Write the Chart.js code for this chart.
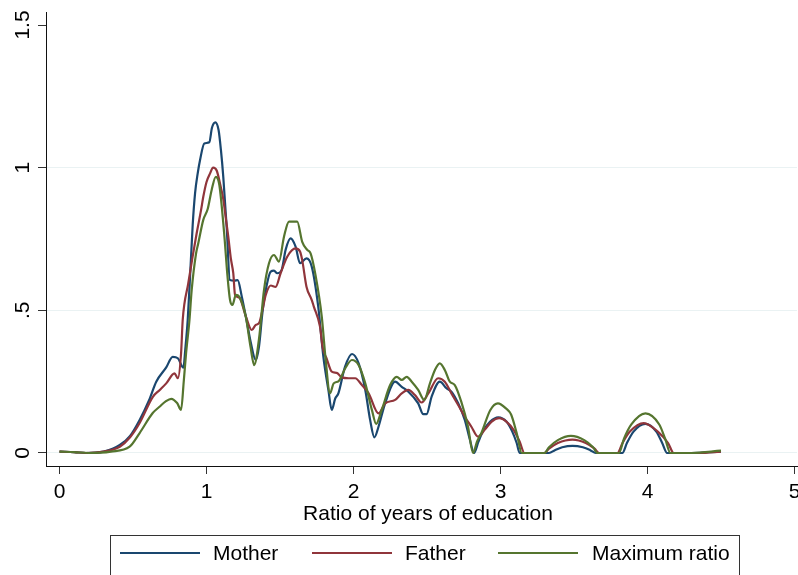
<!DOCTYPE html>
<html>
<head>
<meta charset="utf-8">
<script src="https://cdn.jsdelivr.net/npm/chart.js@4.4.1/dist/chart.umd.min.js"></script>
<style>
  html, body { margin: 0; padding: 0; background: #fff; }
  canvas { display: block; }
</style>
</head>
<body>
<canvas id="densityChart" width="798" height="575"></canvas>
<script>
// kernel density estimates
const motherX = [0, 0.1, 0.18, 0.3, 0.41, 0.48, 0.545, 0.61, 0.658, 0.726, 0.77, 0.805, 0.843, 0.855, 0.872, 0.888, 0.906, 0.922, 0.94, 0.956, 0.985, 1.019, 1.037, 1.06, 1.082, 1.098, 1.114, 1.137, 1.159, 1.19, 1.212, 1.24, 1.272, 1.30, 1.335, 1.357, 1.38, 1.403, 1.437, 1.459, 1.481, 1.511, 1.538, 1.572, 1.606, 1.636, 1.68, 1.716, 1.76, 1.795, 1.829, 1.852, 1.875, 1.897, 1.942, 1.99, 2.035, 2.08, 2.113, 2.142, 2.17, 2.215, 2.283, 2.328, 2.373, 2.44, 2.475, 2.497, 2.531, 2.587, 2.632, 2.666, 2.712, 2.757, 2.79, 2.82, 2.85, 2.88, 2.93, 2.985, 3.04, 3.08, 3.11, 3.13, 3.25, 3.33, 3.37, 3.42, 3.49, 3.56, 3.61, 3.648, 3.75, 3.829, 3.86, 3.905, 3.985, 4.06, 4.10, 4.133, 4.3, 4.5];
const motherY = [0.005, 0.003, 0, 0.005, 0.028, 0.06, 0.116, 0.186, 0.25, 0.30, 0.337, 0.332, 0.299, 0.36, 0.466, 0.618, 0.80, 0.91, 0.98, 1.027, 1.085, 1.089, 1.14, 1.159, 1.132, 1.062, 0.968, 0.793, 0.606, 0.604, 0.606, 0.548, 0.466, 0.39, 0.326, 0.373, 0.49, 0.571, 0.636, 0.639, 0.63, 0.641, 0.712, 0.752, 0.723, 0.665, 0.682, 0.653, 0.513, 0.337, 0.221, 0.151, 0.19, 0.209, 0.302, 0.347, 0.314, 0.221, 0.116, 0.055, 0.092, 0.174, 0.25, 0.232, 0.215, 0.174, 0.136, 0.136, 0.197, 0.25, 0.227, 0.215, 0.174, 0.116, 0.05, 0, 0.04, 0.075, 0.11, 0.125, 0.11, 0.075, 0.035, 0, 0, 0, 0.01, 0.02, 0.025, 0.02, 0.01, 0, 0, 0, 0.035, 0.075, 0.102, 0.075, 0.035, 0, 0, 0.005];

const fatherX = [0, 0.1, 0.18, 0.3, 0.41, 0.48, 0.545, 0.635, 0.68, 0.726, 0.782, 0.805, 0.827, 0.838, 0.876, 0.906, 0.933, 0.963, 0.978, 1.0, 1.024, 1.045, 1.069, 1.098, 1.114, 1.132, 1.148, 1.166, 1.182, 1.194, 1.222, 1.267, 1.308, 1.335, 1.357, 1.38, 1.403, 1.437, 1.47, 1.504, 1.549, 1.606, 1.636, 1.651, 1.68, 1.716, 1.73, 1.772, 1.79, 1.818, 1.852, 1.886, 1.92, 1.967, 2.012, 2.057, 2.103, 2.17, 2.215, 2.283, 2.328, 2.373, 2.418, 2.463, 2.509, 2.576, 2.621, 2.666, 2.712, 2.757, 2.802, 2.847, 2.892, 2.94, 2.99, 3.04, 3.09, 3.13, 3.163, 3.25, 3.298, 3.33, 3.39, 3.49, 3.58, 3.64, 3.671, 3.73, 3.795, 3.83, 3.88, 3.975, 4.07, 4.14, 4.178, 4.35, 4.5];
const fatherY = [0.005, 0.003, 0, 0.005, 0.022, 0.055, 0.105, 0.197, 0.22, 0.244, 0.279, 0.262, 0.35, 0.466, 0.595, 0.69, 0.77, 0.852, 0.898, 0.95, 0.98, 1.0, 0.99, 0.93, 0.89, 0.82, 0.758, 0.68, 0.63, 0.554, 0.545, 0.48, 0.431, 0.449, 0.455, 0.50, 0.554, 0.587, 0.582, 0.63, 0.688, 0.717, 0.706, 0.676, 0.583, 0.536, 0.513, 0.443, 0.37, 0.33, 0.285, 0.281, 0.265, 0.262, 0.262, 0.238, 0.209, 0.139, 0.174, 0.186, 0.209, 0.221, 0.203, 0.177, 0.209, 0.262, 0.25, 0.209, 0.168, 0.127, 0.092, 0.057, 0.081, 0.11, 0.122, 0.11, 0.08, 0.04, 0, 0, 0, 0.015, 0.035, 0.047, 0.035, 0.015, 0, 0, 0, 0.035, 0.075, 0.105, 0.075, 0.035, 0, 0, 0.005];

const maxX = [0, 0.1, 0.2, 0.35, 0.477, 0.545, 0.634, 0.68, 0.72, 0.76, 0.80, 0.827, 0.845, 0.861, 0.884, 0.899, 0.929, 0.944, 0.978, 1.008, 1.035, 1.063, 1.087, 1.12, 1.143, 1.16, 1.176, 1.2, 1.222, 1.267, 1.30, 1.324, 1.357, 1.391, 1.425, 1.459, 1.493, 1.527, 1.561, 1.617, 1.651, 1.685, 1.708, 1.741, 1.784, 1.81, 1.84, 1.865, 1.899, 1.944, 1.989, 2.035, 2.08, 2.125, 2.154, 2.192, 2.249, 2.294, 2.328, 2.362, 2.396, 2.44, 2.481, 2.52, 2.554, 2.587, 2.621, 2.655, 2.689, 2.734, 2.779, 2.813, 2.84, 2.87, 2.93, 2.982, 3.04, 3.072, 3.11, 3.145, 3.22, 3.298, 3.33, 3.39, 3.479, 3.57, 3.63, 3.66, 3.73, 3.806, 3.84, 3.89, 3.986, 4.08, 4.12, 4.156, 4.3, 4.5];
const maxY = [0.005, 0.003, 0, 0.005, 0.022, 0.07, 0.14, 0.162, 0.18, 0.19, 0.175, 0.151, 0.25, 0.35, 0.466, 0.571, 0.70, 0.735, 0.817, 0.855, 0.922, 0.968, 0.94, 0.77, 0.618, 0.536, 0.519, 0.554, 0.548, 0.478, 0.37, 0.308, 0.40, 0.571, 0.665, 0.694, 0.671, 0.758, 0.811, 0.811, 0.74, 0.712, 0.70, 0.625, 0.478, 0.33, 0.209, 0.244, 0.252, 0.297, 0.326, 0.308, 0.244, 0.151, 0.102, 0.151, 0.238, 0.267, 0.256, 0.267, 0.25, 0.221, 0.186, 0.244, 0.291, 0.314, 0.291, 0.25, 0.238, 0.178, 0.092, 0, 0.04, 0.07, 0.15, 0.174, 0.155, 0.135, 0.07, 0, 0, 0, 0.02, 0.045, 0.06, 0.045, 0.02, 0, 0, 0, 0.05, 0.10, 0.139, 0.10, 0.05, 0, 0, 0.008];

const seriesNames = ['Mother', 'Father', 'Maximum ratio'];
const seriesColors = ['#1a476f', '#90353b', '#55752f'];
const xTicks = [0, 1, 2, 3, 4, 5];
const yTicks = [0, 0.5, 1, 1.5];
const yTickLabels = ['0', '.5', '1', '1.5'];
const xTitle = 'Ratio of years of education';

const FONT = '21px "Liberation Sans", Arial, sans-serif';

const toPoints = (xs, ys) => xs.map((x, i) => ({ x: x, y: ys[i] }));

// tick labels, axis title and the framed legend
const decor = {
  id: 'decor',
  afterDraw(chart) {
    const ctx = chart.ctx;
    const xs = chart.scales.x, ys = chart.scales.y;
    ctx.save();
    ctx.fillStyle = '#000';
    ctx.font = FONT;
    ctx.textAlign = 'center';
    ctx.textBaseline = 'middle';

    xTicks.forEach(v => ctx.fillText(String(v), xs.getPixelForValue(v), 492));

    yTicks.forEach((v, i) => {
      ctx.save();
      ctx.translate(23, ys.getPixelForValue(v));
      ctx.rotate(-Math.PI / 2);
      ctx.fillText(yTickLabels[i], 0, 0);
      ctx.restore();
    });

    ctx.fillText(xTitle, 428, 514);

    // legend
    ctx.strokeStyle = '#333';
    ctx.lineWidth = 1;
    ctx.strokeRect(110.5, 535.5, 629, 60);
    const lineStarts = [120, 312, 498];
    const textStarts = [213, 405, 592];
    ctx.textAlign = 'left';
    chart.data.datasets.forEach((ds, i) => {
      ctx.strokeStyle = ds.borderColor;
      ctx.lineWidth = 2;
      ctx.beginPath();
      ctx.moveTo(lineStarts[i], 553);
      ctx.lineTo(lineStarts[i] + 80, 553);
      ctx.stroke();
      ctx.fillStyle = '#000';
      ctx.fillText(ds.label, textStarts[i], 554);
    });
    ctx.restore();
  }
};

new Chart(document.getElementById('densityChart'), {
  type: 'line',
  data: {
    datasets: [
      { label: seriesNames[0], data: toPoints(motherX, motherY), borderColor: seriesColors[0], order: 3 },
      { label: seriesNames[1], data: toPoints(fatherX, fatherY), borderColor: seriesColors[1], order: 2 },
      { label: seriesNames[2], data: toPoints(maxX, maxY), borderColor: seriesColors[2], order: 1 }
    ]
  },
  options: {
    responsive: false,
    animation: false,
    devicePixelRatio: 1,
    layout: { padding: { left: 38, top: 12, right: 1, bottom: 45 } },
    elements: {
      line: { borderWidth: 2.2, fill: false, cubicInterpolationMode: 'monotone', tension: 0.4 },
      point: { radius: 0 }
    },
    plugins: {
      legend: { display: false },
      tooltip: { enabled: false }
    },
    scales: {
      x: {
        type: 'linear',
        min: -0.092,
        max: 5.017,
        afterBuildTicks: s => { s.ticks = xTicks.map(v => ({ value: v })); },
        afterFit: s => { s.height = 64; },
        ticks: { display: false },
        grid: { drawOnChartArea: false, drawTicks: true, tickLength: 8, tickColor: '#333', tickWidth: 1 },
        border: { color: '#111', width: 1 }
      },
      y: {
        type: 'linear',
        min: -0.0456,
        max: 1.5456,
        afterBuildTicks: s => { s.ticks = yTicks.map(v => ({ value: v })); },
        ticks: { display: false },
        grid: {
          color: c => (c.tick && c.tick.value === 1.5) ? 'rgba(0,0,0,0)' : '#eaf2f3',
          lineWidth: 1,
          drawTicks: true,
          tickLength: 8,
          tickColor: '#333',
          tickWidth: 1
        },
        border: { color: '#111', width: 1 }
      }
    }
  },
  plugins: [decor]
});
</script>
</body>
</html>
